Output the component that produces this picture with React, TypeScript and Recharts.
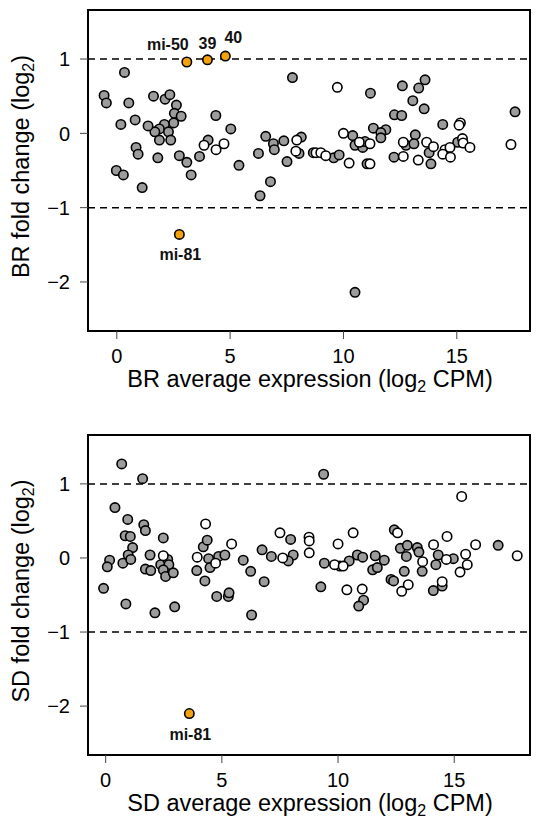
import React from 'react';
import { ScatterChart, Scatter, XAxis, YAxis, ReferenceLine, ReferenceArea } from 'recharts';

const FONT = '"Liberation Sans", Arial, Helvetica, sans-serif';
const GRAY = '#9c9c9c';
const ORANGE = '#f5a20a';

// --- BR panel ---
const brGrayExpr = [0.34, -0.56, -0.46, 0.53, 1.62, 2.13, 2.34, 2.63, 2.54, 2.84, 2.51, 2.10, 1.88, 2.28, 1.68, 1.38, 0.81, 0.18, 1.88, 2.38, 0.85, 0.94, 1.81, 2.76, 3.09, 3.28, 3.65, 4.03, 4.37, 5.03, -0.02, 0.29, 1.12, 5.39, 7.75, 11.19, 11.32, 6.57, 6.91, 6.95, 7.37, 8.14, 8.04, 6.25, 7.51, 6.78, 6.32, 8.67, 9.57, 9.81, 10.41, 10.51, 10.85, 10.95, 11.04, 10.51, 13.6, 12.6, 13.32, 13.06, 13.56, 12.25, 12.57, 14.38, 17.57, 11.87, 11.65, 11.65, 13.17, 12.76, 13.11, 12.23, 13.78, 13.86, 15.04];
const brGrayFold = [0.82, 0.51, 0.41, 0.41, 0.50, 0.46, 0.52, 0.38, 0.27, 0.23, 0.14, 0.12, 0.06, 0.02, 0.02, 0.10, 0.18, 0.12, -0.09, -0.09, -0.19, -0.28, -0.33, -0.30, -0.39, -0.56, -0.31, -0.09, 0.24, 0.06, -0.50, -0.56, -0.73, -0.43, 0.75, 0.54, 0.07, -0.04, -0.14, -0.22, -0.10, -0.05, -0.27, -0.27, -0.38, -0.65, -0.84, -0.26, -0.33, -0.29, -0.03, -0.16, -0.19, -0.11, -0.41, -2.14, 0.72, 0.64, 0.61, 0.44, 0.33, 0.25, 0.24, 0.12, 0.29, 0.05, 0.01, -0.06, -0.02, -0.16, -0.14, -0.32, -0.26, -0.41, -0.12];
const brOpenExpr = [3.85, 4.38, 4.73, 9.73, 10.0, 7.94, 7.9, 8.79, 9.0, 9.22, 10.25, 11.17, 10.7, 11.17, 15.16, 15.1, 12.64, 13.67, 13.97, 14.48, 14.7, 14.38, 14.72, 15.25, 15.28, 15.58, 12.64, 13.3, 17.39];
const brOpenFold = [-0.16, -0.22, -0.14, 0.62, 0.0, -0.09, -0.24, -0.26, -0.26, -0.30, -0.40, -0.14, -0.12, -0.41, 0.14, 0.11, -0.12, -0.12, -0.18, -0.22, -0.19, -0.28, -0.32, -0.07, -0.13, -0.19, -0.31, -0.36, -0.15];
const brHlNames = ['mi-50', '39', '40', 'mi-81'];
const brHlExpr = [3.09, 4.0, 4.79, 2.76];
const brHlFold = [0.96, 0.99, 1.04, -1.36];

// --- SD panel ---
const sdGrayExpr = [0.69, 1.59, 0.40, 0.95, 1.64, 1.71, 0.84, 1.06, 2.48, 1.16, 0.97, 0.17, 0.07, 0.74, 1.08, 1.91, 1.71, 1.94, 2.37, 2.67, 2.72, 2.48, 2.58, 2.91, -0.09, 0.87, 2.12, 2.97, 4.2, 4.37, 4.43, 3.92, 4.49, 4.27, 4.86, 5.13, 4.78, 5.28, 5.31, 9.38, 7.96, 6.73, 7.13, 8.07, 7.86, 5.92, 6.24, 6.82, 6.28, 9.41, 9.26, 10.08, 10.48, 10.83, 11.06, 11.6, 11.49, 11.69, 11.1, 10.89, 12.42, 12.68, 12.98, 13.41, 13.48, 12.94, 11.99, 14.31, 14.96, 14.21, 13.62, 12.85, 12.28, 12.39, 14.1, 14.48, 16.89];
const sdGrayFold = [1.27, 1.07, 0.68, 0.52, 0.45, 0.37, 0.30, 0.29, 0.27, 0.14, 0.04, -0.03, -0.12, -0.07, -0.02, 0.04, -0.15, -0.17, -0.09, -0.02, -0.09, -0.16, -0.25, -0.20, -0.41, -0.62, -0.74, -0.66, 0.15, 0.24, -0.01, -0.17, -0.13, -0.31, 0.02, 0.04, -0.52, -0.52, -0.47, 1.13, 0.25, 0.11, 0.02, 0.04, -0.04, -0.03, -0.18, -0.32, -0.77, -0.07, -0.39, -0.11, -0.04, 0.04, 0.01, 0.03, -0.16, -0.13, -0.57, -0.65, 0.38, 0.13, 0.17, 0.14, 0.08, 0.02, -0.03, 0.04, -0.01, -0.09, -0.18, -0.18, -0.29, -0.31, -0.44, -0.38, 0.17];
const sdOpenExpr = [4.30, 3.94, 2.48, 4.73, 5.42, 7.5, 8.75, 8.76, 8.76, 7.62, 10.0, 10.65, 9.85, 10.22, 10.38, 11.04, 12.56, 14.69, 14.11, 15.92, 15.32, 13.64, 14.66, 15.49, 15.56, 15.25, 13.02, 12.74, 14.48, 17.71];
const sdOpenFold = [0.46, 0.01, 0.03, -0.07, 0.19, 0.34, 0.28, 0.23, 0.07, 0.0, 0.19, 0.34, -0.09, -0.11, -0.43, -0.42, 0.34, 0.29, 0.18, 0.18, 0.83, -0.05, -0.02, 0.05, -0.09, -0.19, -0.36, -0.45, -0.32, 0.03];
const sdHlNames = ['mi-81'];
const sdHlExpr = [3.6];
const sdHlFold = [-2.10];

const xTicks = [0, 5, 10, 15];
const yTicks = [-2, -1, 0, 1];
const yDomain: [number, number] = [-2.66, 1.66];

const zip = (xs: number[], ys: number[], names?: string[]) =>
  xs.map((x, i) => ({ x, y: ys[i], name: names ? names[i] : '' }));

// label placement relative to the point, by name
const labelOffset: Record<string, [number, number]> = {
  'mi-50': [-19, -12],
  '39': [0, -11],
  '40': [8, -13],
  'mi-81': [1, 26],
};

const dot = (fill: string) => (props: any) => (
  <circle cx={props.cx} cy={props.cy} r={4.7} fill={fill} stroke="#000" strokeWidth={1.6} />
);

const HlDot = (props: any) => {
  const { cx, cy, payload } = props;
  const off = labelOffset[payload.name] || [0, -12];
  return (
    <g>
      <circle cx={cx} cy={cy} r={4.7} fill={ORANGE} stroke="#000" strokeWidth={1.6} />
      <text x={cx + off[0]} y={cy + off[1]} textAnchor="middle" fontFamily={FONT} fontWeight="bold" fontSize={16} fill="#111">
        {payload.name}
      </text>
    </g>
  );
};

const fmt = (v: number) => (v < 0 ? '\u2212' + Math.abs(v) : String(v));

const XTick = (props: any) => (
  <text x={props.x} y={props.y} dy="0.71em" textAnchor="middle" fontFamily={FONT} fontSize={20} fill="#000">
    {props.payload.value}
  </text>
);

const YTick = (props: any) => (
  <text x={props.x} y={props.y} dy="0.36em" textAnchor="end" fontFamily={FONT} fontSize={20} fill="#000">
    {fmt(props.payload.value)}
  </text>
);

interface PanelProps {
  tag: string;
  top: number;
  height: number;
  marginTop: number;
  xAxisHeight: number;
  xDomain: [number, number];
  gray: { x: number; y: number }[];
  open: { x: number; y: number }[];
  hl: { x: number; y: number; name: string }[];
}

function Panel({ tag, top, height, marginTop, xAxisHeight, xDomain, gray, open, hl }: PanelProps) {
  return (
    <div style={{ position: 'absolute', left: 0, top }}>
      <ScatterChart width={536} height={height} margin={{ top: marginTop, right: 6, bottom: 0, left: 0 }}>
        <XAxis
          type="number"
          dataKey="x"
          domain={xDomain}
          ticks={xTicks}
          interval={0}
          allowDataOverflow
          height={xAxisHeight}
          axisLine={false}
          tickLine={{ stroke: '#444', strokeWidth: 1 }}
          tickSize={8}
          tickMargin={10}
          tick={<XTick />}
          label={{
            content: (p: any) => {
              const vb = p.viewBox;
              return (
                <text x={vb.x + vb.width / 2 + 1} y={vb.y + 56} textAnchor="middle" fontFamily={FONT} fontSize={23.5} fill="#000">
                  {tag} average expression (log<tspan dy={5} fontSize={16}>2</tspan>
                  <tspan dy={-5}> CPM)</tspan>
                </text>
              );
            },
          }}
        />
        <YAxis
          type="number"
          dataKey="y"
          domain={yDomain}
          ticks={yTicks}
          interval={0}
          allowDataOverflow
          width={88}
          axisLine={false}
          tickLine={{ stroke: '#444', strokeWidth: 1 }}
          tickSize={8}
          tickMargin={10}
          tick={<YTick />}
          label={{
            content: (p: any) => {
              const vb = p.viewBox;
              const cx = vb.x + 29;
              const cy = vb.y + vb.height / 2 - 4;
              return (
                <text x={cx} y={cy} transform={`rotate(-90, ${cx}, ${cy})`} textAnchor="middle" fontFamily={FONT} fontSize={23.5} fill="#000">
                  {tag} fold change (log<tspan dy={5} fontSize={16}>2</tspan>
                  <tspan dy={-5}>)</tspan>
                </text>
              );
            },
          }}
        />
        <ReferenceLine y={1} stroke="#000" strokeWidth={1.5} strokeDasharray="7 5" />
        <ReferenceLine y={-1} stroke="#000" strokeWidth={1.5} strokeDasharray="7 5" />
        <ReferenceArea
          x1={xDomain[0]}
          x2={xDomain[1]}
          y1={yDomain[0]}
          y2={yDomain[1]}
          fill="none"
          stroke="#000"
          strokeWidth={2}
          ifOverflow="visible"
        />
        <Scatter data={gray} shape={dot(GRAY)} isAnimationActive={false} />
        <Scatter data={open} shape={dot('#fff')} isAnimationActive={false} />
        <Scatter data={hl} shape={<HlDot />} isAnimationActive={false} />
      </ScatterChart>
    </div>
  );
}

export default function App() {
  return (
    <div style={{ position: 'absolute', left: 0, top: 0, width: 536, height: 825, background: '#fff' }}>
      <Panel
        tag="BR"
        top={0}
        height={415}
        marginTop={10}
        xAxisHeight={84}
        xDomain={[-1.27, 18.23]}
        gray={zip(brGrayExpr, brGrayFold)}
        open={zip(brOpenExpr, brOpenFold)}
        hl={zip(brHlExpr, brHlFold, brHlNames)}
      />
      <Panel
        tag="SD"
        top={415}
        height={410}
        marginTop={20}
        xAxisHeight={70}
        xDomain={[-0.76, 18.26]}
        gray={zip(sdGrayExpr, sdGrayFold)}
        open={zip(sdOpenExpr, sdOpenFold)}
        hl={zip(sdHlExpr, sdHlFold, sdHlNames)}
      />
    </div>
  );
}
